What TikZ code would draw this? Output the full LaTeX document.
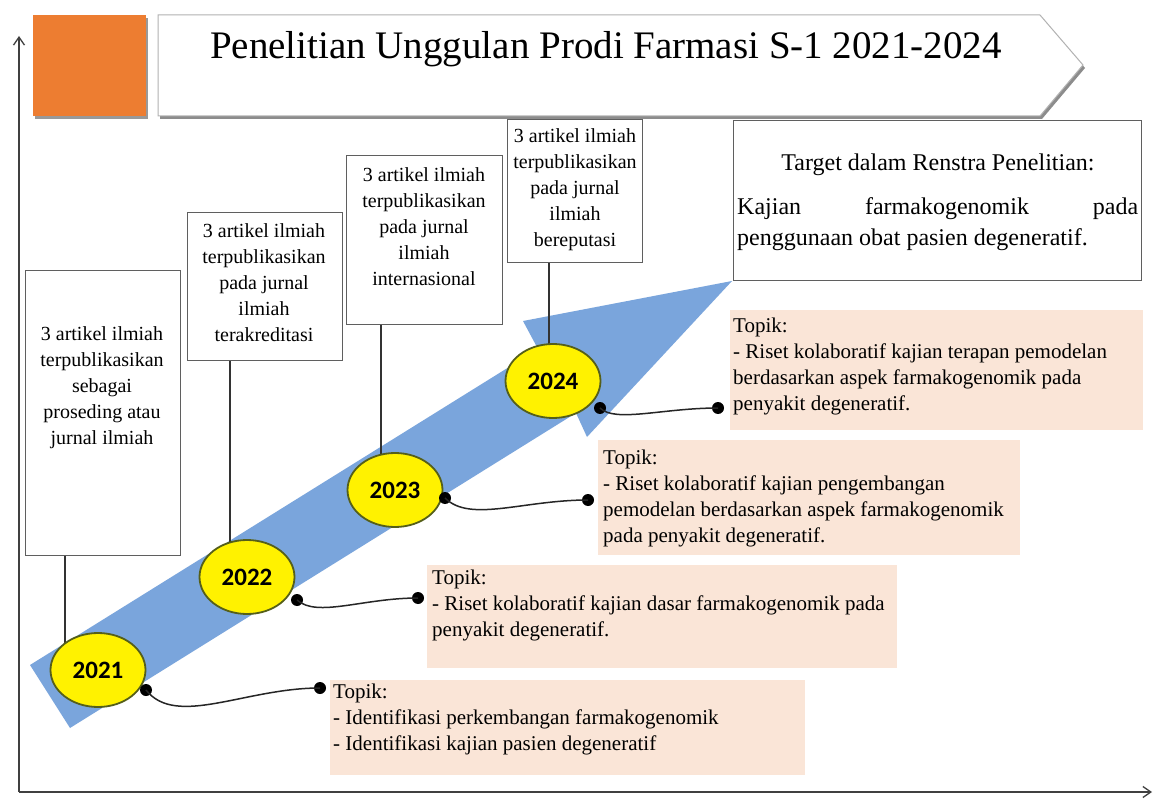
\documentclass[tikz,border=0pt]{standalone}
\usepackage{fontspec}
\setmainfont{Liberation Serif}
\newfontfamily\yearfont{Carlito}
\usetikzlibrary{arrows.meta,shapes.geometric}
\definecolor{orangeA}{RGB}{237,125,49}
\definecolor{peach}{RGB}{250,229,215}
\definecolor{arrowblue}{RGB}{122,165,220}
\definecolor{ellborder}{RGB}{85,95,25}
\definecolor{boxgray}{RGB}{95,95,95}
\begin{document}
\begin{tikzpicture}[x=1pt,y=-1pt,
 tbox/.style={draw=boxgray,line width=1.4pt,fill=white,anchor=north west,inner sep=0pt},
 btext/.style={align=center,inner sep=0pt,font=\fontsize{20}{26}\selectfont},
 topicbg/.style={fill=peach,anchor=north west,inner sep=0pt},
 topictext/.style={align=left,anchor=north west,inner sep=0pt,font=\fontsize{21}{26}\selectfont},
 yearell/.style={ellipse,draw=ellborder,line width=1.8pt,fill=yellow,minimum width=95pt,minimum height=74pt,inner sep=0pt,font=\yearfont\bfseries\fontsize{25}{28}\selectfont},
 dotn/.style={circle,fill=black,inner sep=0pt,minimum size=12pt},
 conn/.style={line width=1.5pt,draw=black!85},
 vline/.style={line width=1.2pt,draw=black!80},
 axis/.style={line width=1.3pt,draw=black!75,-{Straight Barb[length=8pt,width=11pt]}}
]
\fill[white] (0,0) rectangle (1157,810);
\useasboundingbox (0,0) rectangle (1157,810);

% axes
\coordinate (o) at (19,792);
\coordinate (ytop) at (19,36);
\coordinate (xend) at (1152,792);
\draw[axis] (o) -- (ytop);
\draw[axis] (o) -- (xend);

% orange square
\fill[black!40] (35,18) rectangle (148,119);
\fill[orangeA] (33,15) rectangle (146,116);

% title arrow
\fill[black!45] (160,18) -- (1042,18) -- (1085,68) -- (1042,119) -- (160,119) -- cycle;
\filldraw[fill=white,draw=black!30,line width=1pt] (158,15) -- (1040,15) -- (1083,65) -- (1040,116) -- (158,116) -- cycle;
\node[font=\fontsize{39}{44}\selectfont,inner sep=0pt] (title) at (606,49) {Penelitian Unggulan Prodi Farmasi S-1 2021-2024};

% blue arrow
\fill[arrowblue] (30,665) -- (538,349) -- (523,321) -- (732,281) -- (587,437) -- (576,413) -- (70,728) -- cycle;

% topic backgrounds
\node[topicbg,minimum width=475pt,minimum height=95pt] (p21) at (330,680) {};
\node[topicbg,minimum width=470pt,minimum height=103pt] (p22) at (427,565) {};
\node[topicbg,minimum width=422pt,minimum height=115pt] (p23) at (598,440) {};
\node[topicbg,minimum width=413pt,minimum height=120pt] (p24) at (730,310) {};

\node[topictext] (q21) at (333,684) {Topik:\\- Identifikasi perkembangan farmakogenomik\\- Identifikasi kajian pasien degeneratif};
\node[topictext] (q22) at (432,570) {Topik:\\- Riset kolaboratif kajian dasar farmakogenomik pada\\penyakit degeneratif.};
\node[topictext] (q23) at (603,450) {Topik:\\- Riset kolaboratif kajian pengembangan\\pemodelan berdasarkan aspek farmakogenomik\\pada penyakit degeneratif.};
\node[topictext] (q24) at (733,318) {Topik:\\- Riset kolaboratif kajian terapan pemodelan\\berdasarkan aspek farmakogenomik pada\\penyakit degeneratif.};

% milestone boxes
\node[tbox,minimum width=155pt,minimum height=285pt] (b1) at (25,270) {};
\node[tbox,minimum width=155pt,minimum height=148pt] (b2) at (187,212) {};
\node[tbox,minimum width=156pt,minimum height=169pt] (b3) at (346,155) {};
\node[tbox,minimum width=135pt,minimum height=143pt] (b4) at (507,119) {};
\node[tbox,minimum width=408pt,minimum height=160pt] (tg) at (733,120) {};

\node[btext] (t1) at (102,388) {3 artikel ilmiah\\terpublikasikan\\sebagai\\proseding atau\\jurnal ilmiah};
\node[btext] (t2) at (264,283) {3 artikel ilmiah\\terpublikasikan\\pada jurnal\\ilmiah\\terakreditasi};
\node[btext] (t3) at (424,227) {3 artikel ilmiah\\terpublikasikan\\pada jurnal\\ilmiah\\internasional};
\node[btext] (t4) at (575,190) {3 artikel ilmiah\\terpublikasikan\\pada jurnal\\ilmiah\\bereputasi};

\node[inner sep=0pt,font=\fontsize{24}{30}\selectfont] (tg1) at (938,165) {Target dalam Renstra Penelitian:};
\node[anchor=north west,inner sep=0pt,text width=401pt,align=justify,font=\fontsize{24}{31}\selectfont] (tg2) at (737,197) {Kajian farmakogenomik pada\linebreak penggunaan obat pasien degeneratif.};

% vertical connectors
\coordinate (v1) at (65,670);
\coordinate (v2) at (230,577);
\coordinate (v3) at (381,490);
\coordinate (v4) at (549,381);
\draw[vline] (b1.south -| v1) -- (v1);
\draw[vline] (b2.south -| v2) -- (v2);
\draw[vline] (b3.south -| v3) -- (v3);
\draw[vline] (b4.south -| v4) -- (v4);

% year ellipses
\node[yearell] (e21) at (98,670) {2021};
\node[yearell] (e22) at (247,577) {2022};
\node[yearell] (e23) at (395,490) {2023};
\node[yearell] (e24) at (553,381) {2024};

% dots and curves
\node[dotn] (d21a) at (146,690) {};
\node[dotn] (d21b) at (320,688) {};
\node[dotn] (d22a) at (297,600) {};
\node[dotn] (d22b) at (418,598) {};
\node[dotn] (d23a) at (445,498) {};
\node[dotn] (d23b) at (588,500) {};
\node[dotn] (d24a) at (600,408) {};
\node[dotn] (d24b) at (718,408) {};
\draw[conn] (d21a.center) .. controls +(30,38) and +(-75,0) .. (d21b.center);
\draw[conn] (d22a.center) .. controls +(20,18) and +(-55,0) .. (d22b.center);
\draw[conn] (d23a.center) .. controls +(25,25) and +(-65,0) .. (d23b.center);
\draw[conn] (d24a.center) .. controls +(15,15) and +(-55,0) .. (d24b.center);
\end{tikzpicture}
\end{document}
